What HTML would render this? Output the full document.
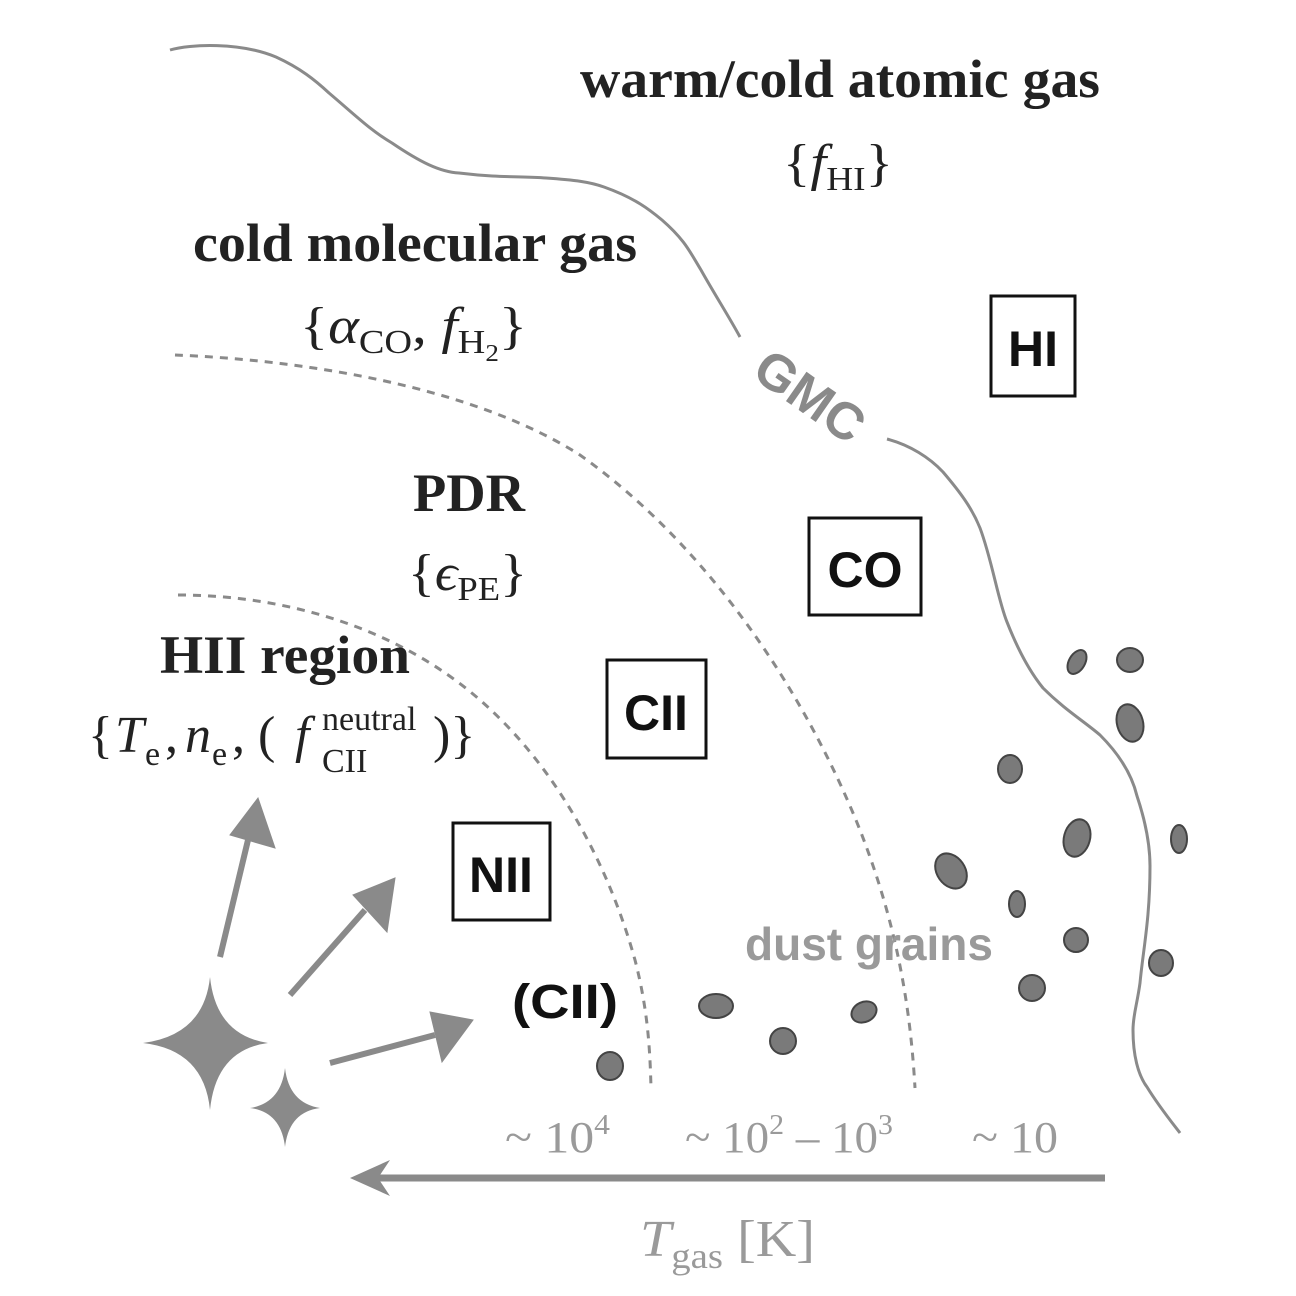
<!DOCTYPE html>
<html><head><meta charset="utf-8"><style>
html,body{margin:0;padding:0;background:#fff}
svg{display:block}
.ser{font-family:"Liberation Serif",serif}
.san{font-family:"Liberation Sans",sans-serif;font-weight:bold}
</style></head><body>
<svg width="1296" height="1296" viewBox="0 0 1296 1296">
<rect width="1296" height="1296" fill="#fff"/>
<path d="M170,50 C190,44 240,42 276,57 C300,68 315,80 329,93 C355,115 370,130 392,143 C420,162 440,172 459,173 C500,178 520,176 546,178 C575,180 590,182 604,187 C635,198 650,210 662,220 C685,240 690,252 701,270 C715,295 728,315 740,337" fill="none" stroke="#8a8a8a" stroke-width="3"/>
<path d="M887,439 C910,445 930,458 943,472 C960,492 972,508 980,528 C992,560 998,600 1007,622 C1018,650 1030,672 1043,688 C1065,710 1085,722 1100,735 C1120,755 1132,775 1137,796 C1145,820 1150,845 1150,866 C1150,920 1143,950 1140,983 C1137,1005 1133,1015 1133,1030 C1133,1055 1138,1075 1147,1087 C1158,1105 1170,1120 1180,1133" fill="none" stroke="#8a8a8a" stroke-width="3"/>
<text class="san" x="810" y="414" font-size="52" fill="#8a8a8a" text-anchor="middle" transform="rotate(35 810 396)">GMC</text>
<path d="M175,355 C300,360 470,385 580,455 C700,540 800,680 860,830 C895,920 910,1000 915,1088" fill="none" stroke="#8a8a8a" stroke-width="3" stroke-dasharray="8,7"/>
<path d="M178,595 C290,595 400,630 480,700 C560,770 610,870 635,960 C648,1010 650,1050 651,1088" fill="none" stroke="#8a8a8a" stroke-width="3" stroke-dasharray="8,7"/>
<!-- region texts -->
<text class="ser" font-weight="bold" x="580" y="97" font-size="54" textLength="520" lengthAdjust="spacingAndGlyphs" fill="#222">warm/cold atomic gas</text>
<text class="ser" x="783" y="180" font-size="52" textLength="110" lengthAdjust="spacingAndGlyphs" fill="#222">{<tspan font-style="italic">f</tspan><tspan font-size="34" dy="10">HI</tspan><tspan dy="-10">}</tspan></text>
<text class="ser" font-weight="bold" x="193" y="261" font-size="54" textLength="444" lengthAdjust="spacingAndGlyphs" fill="#222">cold molecular gas</text>
<text class="ser" x="300" y="343" font-size="52" textLength="227" lengthAdjust="spacingAndGlyphs" fill="#222">{<tspan font-style="italic">α</tspan><tspan font-size="34" dy="10">CO</tspan><tspan dy="-10">, </tspan><tspan font-style="italic">f</tspan><tspan font-size="34" dy="10">H</tspan><tspan font-size="24" dy="8">2</tspan><tspan dy="-18">}</tspan></text>
<text class="ser" font-weight="bold" x="413" y="511" font-size="54" textLength="112" lengthAdjust="spacingAndGlyphs" fill="#222">PDR</text>
<text class="ser" x="408" y="590" font-size="52" textLength="119" lengthAdjust="spacingAndGlyphs" fill="#222">{<tspan font-style="italic">ϵ</tspan><tspan font-size="34" dy="10">PE</tspan><tspan dy="-10">}</tspan></text>
<text class="ser" font-weight="bold" x="160" y="673" font-size="54" textLength="250" lengthAdjust="spacingAndGlyphs" fill="#222">HII region</text>
<g class="ser" fill="#222">
<text x="88" y="752" font-size="52">{</text>
<text x="115" y="752" font-size="52" font-style="italic">T</text>
<text x="145" y="765" font-size="34">e</text>
<text x="165" y="752" font-size="52">,</text>
<text x="185" y="752" font-size="52" font-style="italic">n</text>
<text x="212" y="765" font-size="34">e</text>
<text x="232" y="752" font-size="52">, (</text>
<text x="295" y="752" font-size="52" font-style="italic">f</text>
<text x="322" y="730" font-size="34">neutral</text>
<text x="322" y="772" font-size="34">CII</text>
<text x="433" y="752" font-size="52">)}</text>
</g>
<!-- boxes -->
<g><rect x="991" y="296" width="84" height="100" fill="none" stroke="#111" stroke-width="3"/><text class="san" x="1033" y="366" font-size="50" text-anchor="middle" fill="#111">HI</text></g>
<g><rect x="809" y="518" width="112" height="97" fill="none" stroke="#111" stroke-width="3"/><text class="san" x="865" y="587" font-size="50" text-anchor="middle" fill="#111">CO</text></g>
<g><rect x="607" y="660" width="99" height="98" fill="none" stroke="#111" stroke-width="3"/><text class="san" x="656" y="730" font-size="50" text-anchor="middle" fill="#111">CII</text></g>
<g><rect x="453" y="823" width="97" height="97" fill="none" stroke="#111" stroke-width="3"/><text class="san" x="501" y="892" font-size="50" text-anchor="middle" fill="#111">NII</text></g>
<text class="san" x="512" y="1018" font-size="48" textLength="106" lengthAdjust="spacingAndGlyphs" fill="#111">(CII)</text>
<text class="san" x="745" y="960" font-size="46" textLength="248" lengthAdjust="spacingAndGlyphs" fill="#9a9a9a">dust grains</text>
<g fill="#7a7a7a" stroke="#444" stroke-width="2">
<ellipse cx="1077" cy="662" rx="8" ry="13" transform="rotate(30 1077 662)"/>
<ellipse cx="1130" cy="660" rx="13" ry="12"/>
<ellipse cx="1130" cy="723" rx="13" ry="19" transform="rotate(-15 1130 723)"/>
<ellipse cx="1010" cy="769" rx="12" ry="14"/>
<ellipse cx="1077" cy="838" rx="13" ry="19" transform="rotate(15 1077 838)"/>
<ellipse cx="1179" cy="839" rx="8" ry="14"/>
<ellipse cx="951" cy="871" rx="14" ry="19" transform="rotate(-35 951 871)"/>
<ellipse cx="1017" cy="904" rx="8" ry="13"/>
<ellipse cx="1076" cy="940" rx="12" ry="12"/>
<ellipse cx="1161" cy="963" rx="12" ry="13"/>
<ellipse cx="1032" cy="988" rx="13" ry="13"/>
<ellipse cx="716" cy="1006" rx="17" ry="12"/>
<ellipse cx="864" cy="1012" rx="13" ry="10" transform="rotate(-25 864 1012)"/>
<ellipse cx="783" cy="1041" rx="13" ry="13"/>
<ellipse cx="610" cy="1066" rx="13" ry="14"/>
</g>
<path d="M210,977 Q216,1035 268,1043 Q216,1050 210,1110 Q204,1050 143,1043 Q204,1035 210,977Z" fill="#8a8a8a"/>
<path d="M285,1068 Q289,1103 320,1108 Q289,1112 285,1147 Q281,1112 250,1108 Q281,1103 285,1068Z" fill="#8a8a8a"/>
<g fill="#8a8a8a" stroke="#8a8a8a" stroke-width="6">
<line x1="220" y1="957" x2="248" y2="840"/><polygon points="258,798 230,835 275,848" stroke-width="1"/>
<line x1="290" y1="995" x2="365" y2="910"/><polygon points="395,878 353,895 387,932" stroke-width="1"/>
<line x1="330" y1="1063" x2="435" y2="1035"/><polygon points="473,1020 430,1012 442,1062" stroke-width="1"/>
</g>
<text class="ser" x="505" y="1152" font-size="44" textLength="105" lengthAdjust="spacingAndGlyphs" fill="#9a9a9a">~ 10<tspan font-size="28" dy="-18">4</tspan></text>
<text class="ser" x="685" y="1152" font-size="44" textLength="208" lengthAdjust="spacingAndGlyphs" fill="#9a9a9a">~ 10<tspan font-size="28" dy="-18">2</tspan><tspan dy="18"> – 10</tspan><tspan font-size="28" dy="-18">3</tspan></text>
<text class="ser" x="972" y="1152" font-size="44" textLength="86" lengthAdjust="spacingAndGlyphs" fill="#9a9a9a">~ 10</text>
<line x1="1105" y1="1178" x2="375" y2="1178" stroke="#8a8a8a" stroke-width="7"/>
<polygon points="350,1178 390,1160 378,1178 390,1196" fill="#8a8a8a"/>
<text class="ser" x="640" y="1256" font-size="52" textLength="175" lengthAdjust="spacingAndGlyphs" fill="#9a9a9a"><tspan font-style="italic">T</tspan><tspan font-size="36" dy="12">gas</tspan><tspan dy="-12"> [K]</tspan></text>
</svg>
</body></html>
